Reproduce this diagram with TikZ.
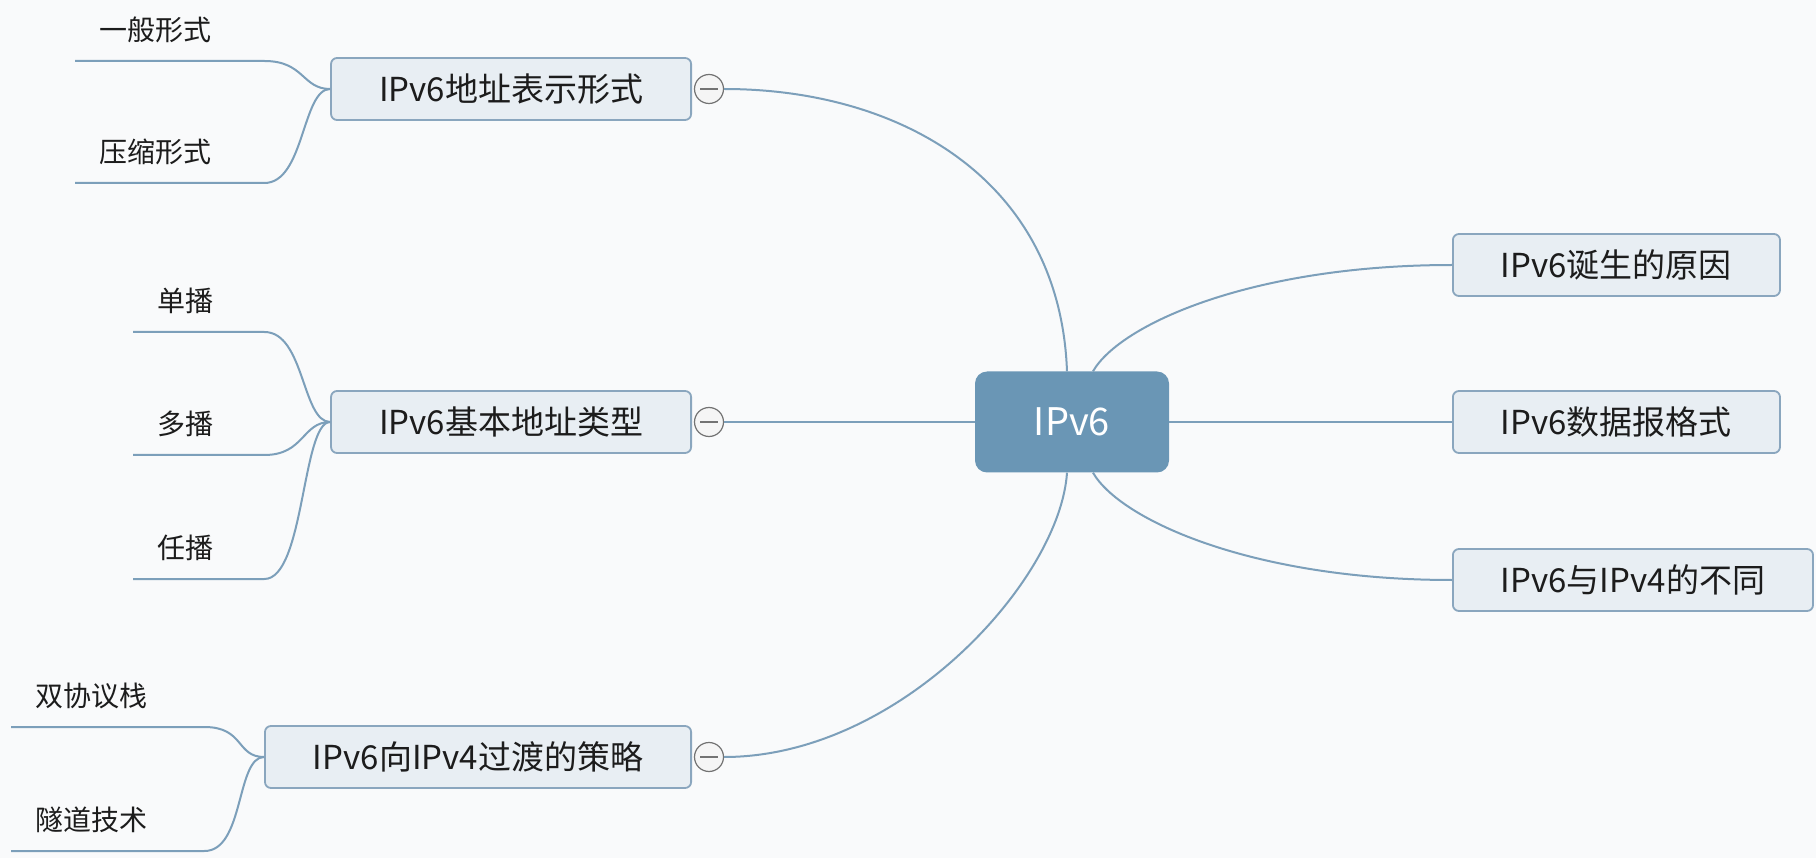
\documentclass[tikz,border=0pt]{standalone}
\usepackage{fontspec}
\setmainfont{Noto Sans CJK SC}
\usepackage{xcolor}
\usetikzlibrary{positioning,calc}

\definecolor{paper}{HTML}{F9FAFB}
\definecolor{linkblue}{HTML}{7C9FBA}
\definecolor{boxfill}{HTML}{E8EEF3}
\definecolor{boxline}{HTML}{8AA6BE}
\definecolor{rootfill}{HTML}{6A96B5}
\definecolor{ink}{HTML}{1C1C1C}

\begin{document}
\begin{tikzpicture}[
    x=1pt, y=-1pt,
    root/.style  = {rectangle, rounded corners=12pt, fill=rootfill, text=white,
                    minimum width=194pt, minimum height=101pt,
                    font=\fontsize{38}{44}\selectfont},
    topic/.style = {rectangle, rounded corners=6pt, draw=boxline, line width=1.8pt,
                    fill=boxfill, text=ink, inner xsep=48pt, minimum height=62pt,
                    font=\fontsize{33}{38}\selectfont},
    leaf/.style  = {anchor=south west, inner xsep=24pt, inner ysep=0pt,
                    minimum height=62pt, align=left, text=ink,
                    font=\fontsize{28}{32}\selectfont},
    fold/.style  = {circle, draw=black!55, fill=white!96!black, line width=1.2pt,
                    minimum size=29pt, inner sep=0pt,
                    path picture={\draw[black!55, line width=1.4pt]
                      ([xshift=-9pt]path picture bounding box.center) --
                      ([xshift=9pt]path picture bounding box.center);}},
    link/.style  = {draw=linkblue, line width=2pt},
]
\fill[paper] (0,0) rectangle (1816,858);
\useasboundingbox (0,0) rectangle (1816,858);

%======== centre ========
\node[root] (ipv6) at (1072,422) {IPv6};

%======== right side ========
\node[topic, anchor=west] (reason) at (1452,265) {IPv6诞生的原因};
\node[topic, anchor=west] (format) at (1452,422) {IPv6数据报格式};
\node[topic, anchor=west] (differ) at (1452,580) {IPv6与IPv4的不同};

\draw[link] ([xshift=21pt]ipv6.north) .. controls +(27,-47) and +(-200,0) .. (reason.west);
\draw[link] (ipv6.east) -- (format.west);
\draw[link] ([xshift=21pt]ipv6.south) .. controls +(27,47) and +(-200,0) .. (differ.west);

%======== left side ========
\node[topic, anchor=east] (addr)  at (692,89)  {IPv6地址表示形式};
\node[topic, anchor=east] (types) at (692,422) {IPv6基本地址类型};
\node[topic, anchor=east] (trans) at (692,757) {IPv6向IPv4过渡的策略};

\node[fold] (f1) at (709,89)  {};
\node[fold] (f2) at (709,422) {};
\node[fold] (f3) at (709,757) {};

\draw[link] (f1.east) .. controls +(176,0) and +(-7,-192) .. ([xshift=-5pt]ipv6.north);
\draw[link] (f2.east) -- (ipv6.west);
\draw[link] (f3.east) .. controls +(176,0) and +(-7,107) .. ([xshift=-5pt]ipv6.south);

% --- leaves of the address forms
\node[leaf, text width=141pt] (general)  at (75,61)  {一般形式};
\node[leaf, text width=141pt] (compress) at (75,183) {压缩形式};
\draw[link] (addr.west) .. controls +(-28,0) and +(40,0) .. (general.south east) -- (general.south west);
\draw[link] (addr.west) .. controls +(-28,0) and +(40,0) .. (compress.south east) -- (compress.south west);

% --- leaves of the address types
\node[leaf, text width=83pt] (unicast) at (133,332) {单播};
\node[leaf, text width=83pt] (multi)   at (133,455) {多播};
\node[leaf, text width=83pt] (any)     at (133,579) {任播};
\draw[link] (types.west) .. controls +(-28,0) and +(40,0) .. (unicast.south east) -- (unicast.south west);
\draw[link] (types.west) .. controls +(-28,0) and +(40,0) .. (multi.south east) -- (multi.south west);
\draw[link] (types.west) .. controls +(-28,0) and +(40,0) .. (any.south east) -- (any.south west);

% --- leaves of the transition
\node[leaf, text width=145pt] (dual)   at (11,727) {双协议栈};
\node[leaf, text width=145pt] (tunnel) at (11,851) {隧道技术};
\draw[link] (trans.west) .. controls +(-28,0) and +(40,0) .. (dual.south east) -- (dual.south west);
\draw[link] (trans.west) .. controls +(-28,0) and +(40,0) .. (tunnel.south east) -- (tunnel.south west);

\end{tikzpicture}
\end{document}
